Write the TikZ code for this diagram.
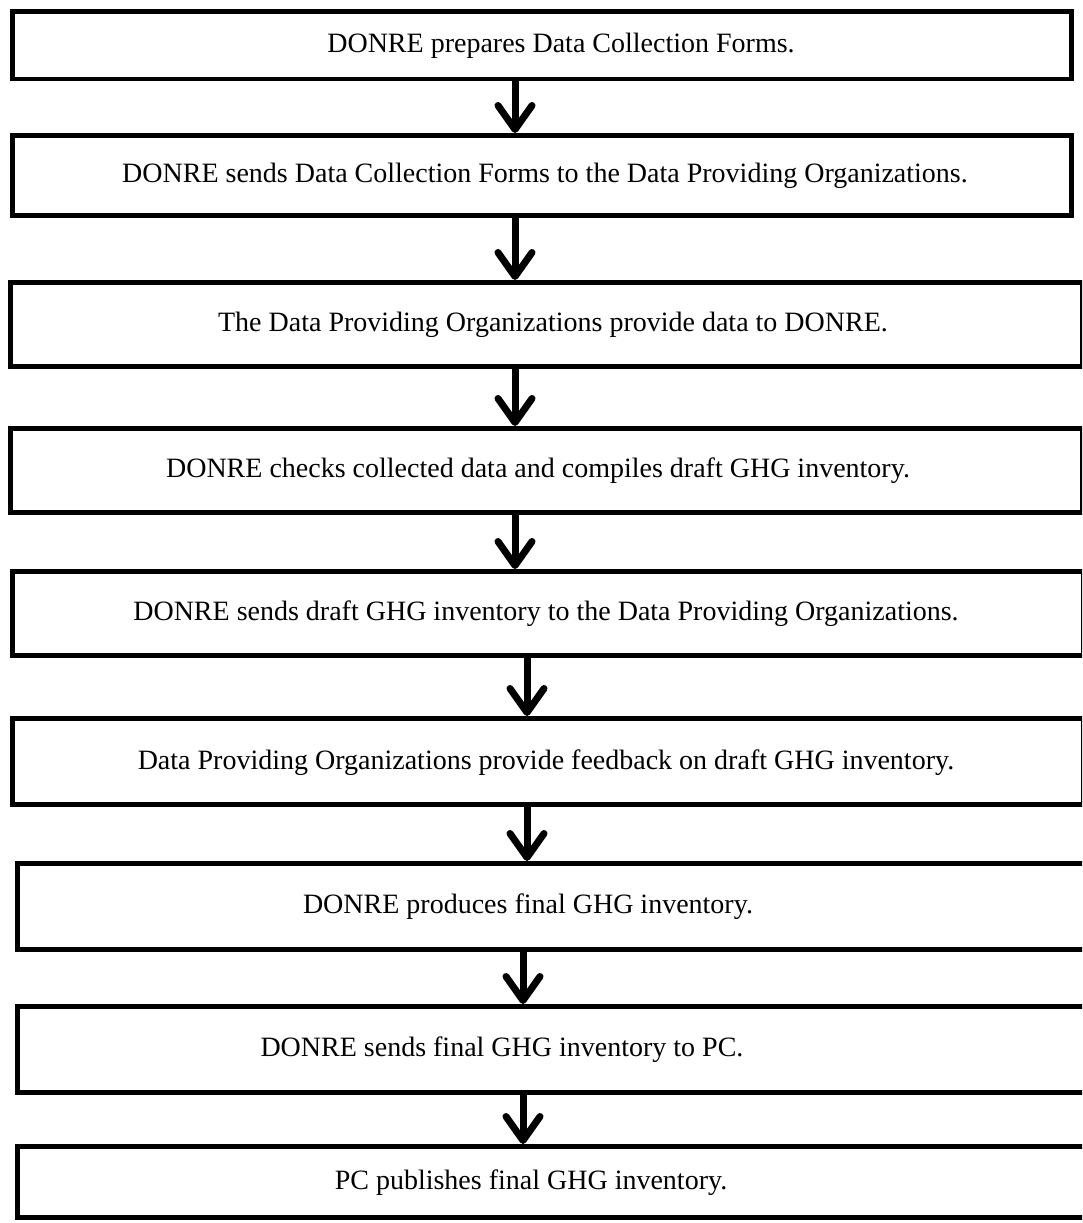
\documentclass[tikz,border=0pt]{standalone}
\usepackage{fontspec}
\setmainfont{Liberation Serif}
\usetikzlibrary{arrows.meta}

\tikzset{
  stepbox/.style={draw=black, line width=4.5pt, fill=white, inner sep=0pt, anchor=north west},
  steptext/.style={inner sep=0pt, anchor=base, font=\fontsize{28}{33}\selectfont},
  flowarrow/.style={line width=7pt, -{Straight Barb[length=24pt, width=34pt, round]}}
}

\begin{document}
\begin{tikzpicture}[x=1pt, y=-1pt]
  \useasboundingbox (0,0) rectangle (1082,1223);
  \clip (0,0) rectangle (1082,1223);

  % process boxes (top-left corner, width, height)
  \node[stepbox, minimum width=1059pt, minimum height=67pt]  (b1) at (10,9.5)   {};
  \node[stepbox, minimum width=1059pt, minimum height=80pt]  (b2) at (10,133)   {};
  \node[stepbox, minimum width=1072pt, minimum height=84pt]  (b3) at (8,280)    {};
  \node[stepbox, minimum width=1072pt, minimum height=84pt]  (b4) at (8,426)    {};
  \node[stepbox, minimum width=1071pt, minimum height=84pt]  (b5) at (10,569)   {};
  \node[stepbox, minimum width=1071pt, minimum height=86pt]  (b6) at (10,716)   {};
  \node[stepbox, minimum width=1090pt, minimum height=86pt]  (b7) at (15,861)   {};
  \node[stepbox, minimum width=1090pt, minimum height=86pt]  (b8) at (15,1004)  {};
  \node[stepbox, minimum width=1090pt, minimum height=71pt]  (b9) at (15,1144)  {};

  % step descriptions (placed on their baselines)
  \node[steptext] (t1) at (561,52.5) {DONRE prepares Data Collection Forms.};
  \node[steptext] (t2) at (545,182)  {DONRE sends Data Collection Forms to the Data Providing Organizations.};
  \node[steptext] (t3) at (553,331)  {The Data Providing Organizations provide data to DONRE.};
  \node[steptext] (t4) at (538,477)  {DONRE checks collected data and compiles draft GHG inventory.};
  \node[steptext] (t5) at (546,620)  {DONRE sends draft GHG inventory to the Data Providing Organizations.};
  \node[steptext] (t6) at (546,769)  {Data Providing Organizations provide feedback on draft GHG inventory.};
  \node[steptext] (t7) at (528,913)  {DONRE produces final GHG inventory.};
  \node[steptext] (t8) at (502,1056) {DONRE sends final GHG inventory to PC.};
  \node[steptext] (t9) at (531,1189) {PC publishes final GHG inventory.};

  % connectors between consecutive steps
  \coordinate (x1) at (515,0);
  \coordinate (x2) at (527,0);
  \coordinate (x3) at (523,0);
  \draw[flowarrow] (b1.south -| x1) -- (b2.north -| x1);
  \draw[flowarrow] (b2.south -| x1) -- (b3.north -| x1);
  \draw[flowarrow] (b3.south -| x1) -- (b4.north -| x1);
  \draw[flowarrow] (b4.south -| x1) -- (b5.north -| x1);
  \draw[flowarrow] (b5.south -| x2) -- (b6.north -| x2);
  \draw[flowarrow] (b6.south -| x2) -- (b7.north -| x2);
  \draw[flowarrow] (b7.south -| x3) -- (b8.north -| x3);
  \draw[flowarrow] (b8.south -| x3) -- (b9.north -| x3);
\end{tikzpicture}
\end{document}
